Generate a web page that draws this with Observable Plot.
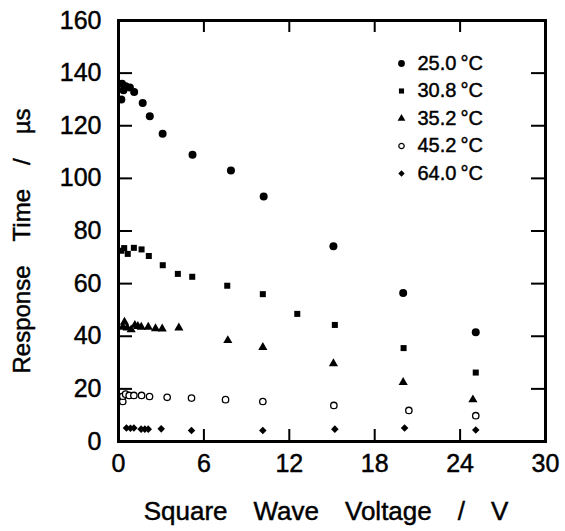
<!DOCTYPE html>
<html><head><meta charset="utf-8">
<script src="https://cdn.jsdelivr.net/npm/d3@7"></script>
<script src="https://cdn.jsdelivr.net/npm/@observablehq/plot@0.6"></script>
<style>
body{margin:0;background:#fff}
svg{font-family:"Liberation Sans",Arial,Helvetica,sans-serif}
svg text{stroke:#000;stroke-width:0.45px}
</style>
</head><body><div id="chart"></div>
<script>
// ---- data ----
const seriesLabels = ["25.0\u2009°C", "30.8\u2009°C", "35.2\u2009°C", "45.2\u2009°C", "64.0\u2009°C"];
const xTitle = "Square\u2003Wave\u2003Voltage\u2003/\u2003V";
const yTitle = "Response\u2003Time\u2003/\u2003µs";
const xTicks = [0, 6, 12, 18, 24, 30];
const yTicks = [0, 20, 40, 60, 80, 100, 120, 140, 160];

const v25 = [0.2, 0.25, 0.35, 0.5, 0.8, 1.1, 1.7, 2.2, 3.1, 5.2, 7.9, 10.2, 15.1, 20.0, 25.1];
const t25 = [130, 136, 133.5, 135, 134.5, 132.8, 128.6, 123.6, 117, 109, 103, 93.1, 74.2, 56.4, 41.5];

const v30 = [0.2, 0.4, 0.65, 1.08, 1.62, 2.13, 3.11, 4.17, 5.18, 7.64, 10.14, 12.56, 15.2, 20.03, 25.1];
const t30 = [72.5, 73.5, 71.3, 73.6, 73.0, 70.5, 67.0, 63.7, 62.6, 59.2, 56.0, 48.5, 44.3, 35.5, 26.2];

const v35 = [0.3, 0.42, 0.61, 0.89, 1.15, 1.36, 1.6, 2.09, 2.6, 3.07, 4.24, 7.68, 10.14, 15.1, 20.0, 24.9];
const t35 = [43.5, 45.4, 43.2, 42.5, 44.2, 43.8, 43.5, 43.5, 42.9, 42.8, 43.2, 38.4, 35.8, 29.6, 22.5, 15.9];

const v45 = [0.3, 0.3, 0.5, 0.75, 1.08, 1.62, 2.18, 3.42, 5.13, 7.52, 10.14, 15.13, 20.4, 25.1];
const t45 = [15.2, 17.2, 18.0, 17.5, 17.5, 17.5, 17.1, 16.8, 16.5, 15.9, 15.2, 13.7, 11.8, 9.8];

const v64 = [0.56, 0.84, 1.08, 1.59, 1.85, 2.09, 3.0, 5.13, 10.14, 15.2, 20.1, 25.1];
const t64 = [5.1, 5.0, 5.1, 4.7, 4.7, 4.7, 4.8, 4.2, 4.2, 4.7, 5.1, 4.4];

// ---- build tables ----
const toRows = (vs, ts) => vs.map((v, i) => ({v, t: ts[i]}));
const series = [
  {rows: toRows(v25, t25), symbol: "circle",   r: 4.0, fill: "#000", stroke: "none"},
  {rows: toRows(v30, t30), symbol: "square",   r: 3.4, fill: "#000", stroke: "none"},
  {rows: toRows(v35, t35), symbol: "triangle", r: 3.4, fill: "#000", stroke: "none"},
  {rows: toRows(v45, t45), symbol: "circle",   r: 3.2, fill: "#fff", stroke: "#000"},
  {rows: toRows(v64, t64), symbol: d3.symbolDiamond2, r: 3.4, fill: "#000", stroke: "none"}
];

const W = 565, H = 531, mL = 118, mR = 20, mT = 20, mB = 90;
const fw = W - mL - mR, fh = H - mT - mB;
const tickLen = 12;

const marks = [];
// tick marks pointing inward on all four sides
marks.push(Plot.tickX(xTicks, {x: d => d, insetTop: fh - tickLen, strokeWidth: 2}));
marks.push(Plot.tickX(xTicks, {x: d => d, insetBottom: fh - tickLen, strokeWidth: 2}));
marks.push(Plot.tickY(yTicks, {y: d => d, insetRight: fw - 14, strokeWidth: 2}));
marks.push(Plot.tickY(yTicks, {y: d => d, insetLeft: fw - 14, strokeWidth: 2}));
// tick labels
marks.push(Plot.axisX(xTicks, {tickSize: 0, tickPadding: 13, fontSize: 25, label: null}));
marks.push(Plot.axisY(yTicks, {tickSize: 0, tickPadding: 17, fontSize: 25, label: null}));
// titles
marks.push(Plot.text([xTitle], {text: d => d, frameAnchor: "bottom", dy: 70, dx: -6, fontSize: 26, textAnchor: "middle", lineAnchor: "middle"}));
marks.push(Plot.text([yTitle], {text: d => d, frameAnchor: "left", dx: -96, dy: 10, rotate: -90, fontSize: 24, textAnchor: "middle", lineAnchor: "middle"}));
// data
series.forEach(s => {
  marks.push(Plot.dot(s.rows, {x: "v", y: "t", symbol: () => s.symbol, r: s.r, fill: s.fill, stroke: s.stroke, strokeWidth: 1.3}));
});
// legend
series.forEach((s, i) => {
  const dy = 43 + i * 27.5;
  marks.push(Plot.dot([seriesLabels[i]], {frameAnchor: "top-left", dx: 283, dy, symbol: () => s.symbol, r: s.r * 0.85, fill: s.fill, stroke: s.stroke, strokeWidth: 1.2}));
  marks.push(Plot.text([seriesLabels[i]], {text: d => d, frameAnchor: "top-left", dx: 299, dy, textAnchor: "start", lineAnchor: "middle", fontSize: 20}));
});
marks.push(Plot.frame({stroke: "#000", strokeWidth: 3}));

const chart = Plot.plot({
  width: W, height: H,
  marginLeft: mL, marginRight: mR, marginTop: mT, marginBottom: mB,
  style: {background: "#fff", color: "#000", fontFamily: '"Liberation Sans", Arial, Helvetica, sans-serif'},
  x: {domain: [0, 30]},
  y: {domain: [0, 160]},
  symbol: {type: "identity"},
  marks
});
document.getElementById("chart").appendChild(chart);
</script>
</body></html>
